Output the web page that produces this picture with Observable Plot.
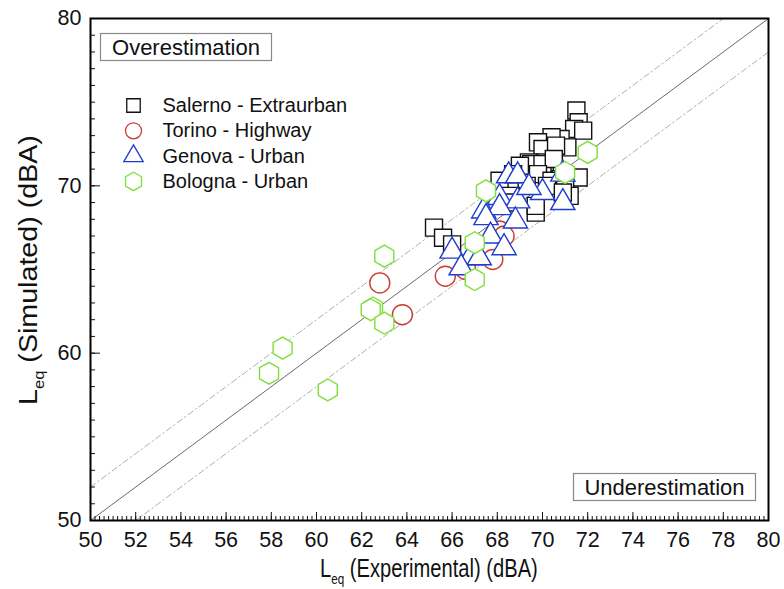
<!DOCTYPE html>
<html>
<head>
<meta charset="utf-8">
<script src="https://cdn.jsdelivr.net/npm/d3@7"></script>
<script src="https://cdn.jsdelivr.net/npm/@observablehq/plot@0.6"></script>
<style>
  html, body { margin: 0; padding: 0; background: #fff; }
  #chart { position: relative; width: 784px; height: 589px; }
</style>
</head>
<body>
<div id="chart"></div>
<script>
// Measured (experimental) vs simulated Leq, dBA — [experimental, simulated]
const salerno = [
  [65.2, 67.5], [65.6, 66.9], [66.0, 66.5],
  [71.5, 74.5], [71.6, 73.8], [71.4, 73.4], [71.8, 73.3],
  [70.8, 72.8], [70.4, 72.9], [71.1, 72.3], [69.8, 72.6], [70.0, 72.2], [70.6, 72.4],
  [70.1, 71.4], [69.4, 71.4], [69.5, 71.3], [70.0, 71.3], [69.0, 71.2], [70.5, 71.6],
  [71.6, 70.5], [68.1, 70.3], [68.7, 70.7], [69.8, 70.7], [70.8, 70.4], [70.4, 70.3],
  [69.3, 70.0], [70.2, 70.0], [71.0, 70.1],
  [71.2, 69.4], [70.9, 69.6], [69.7, 68.4], [69.7, 68.8], [68.6, 69.4], [68.4, 69.0]
];
const torino = [
  [62.8, 64.2], [63.8, 62.3], [65.7, 64.6], [66.6, 65.0], [67.4, 65.9],
  [67.7, 66.4], [68.1, 67.3], [68.3, 67.0], [67.8, 65.6]
];
const genova = [
  [68.5, 70.6], [68.9, 70.6], [70.9, 70.7], [70.0, 69.6], [70.9, 69.0], [68.1, 69.3],
  [68.9, 69.1], [67.4, 68.5], [68.1, 68.7], [67.5, 68.1], [68.8, 67.9], [67.7, 67.0],
  [68.3, 66.3], [66.0, 66.1], [66.8, 65.7], [67.2, 65.7], [66.4, 65.1], [69.4, 69.9]
];
const bologna = [
  [72.0, 72.0], [71.0, 70.8], [67.5, 69.7], [67.0, 66.6], [67.0, 64.4], [63.0, 65.8],
  [62.5, 62.7], [62.4, 62.6], [63.0, 61.8], [58.5, 60.3], [57.9, 58.8], [60.5, 57.8]
];

const seriesNames = ["Salerno - Extraurban", "Torino - Highway", "Genova - Urban", "Bologna - Urban"];

// Axis ticks
const xMajorTicks = d3.range(50, 80.001, 2);
const xMinorTicks = d3.range(0, 151).map(i => 50 + i * 0.2);
const yMajorTicks = [50, 60, 70, 80];
const yMinorTicks = d3.range(50, 80.001, 1);

// Perfect-agreement line and the ±2 dBA tolerance band
const diagonal = [50, 80];
const tolerance = [-2, 2];

const font = "'Liberation Sans', Arial, sans-serif";

const styles = [
  {symbol: "square",   stroke: "#111111", r: 9.6, lr: 7.6},
  {symbol: "circle",   stroke: "#cc3b32", r: 10,  lr: 8},
  {symbol: "triangle", stroke: "#1f3ccc", r: 9,   lr: 7.2},
  {symbol: "hexagon",  stroke: "#7ddf3a", r: 9.5, lr: 8}
];
const groups = [salerno, torino, genova, bologna];

const marks = [
  // tolerance band
  ...tolerance.map(t => Plot.line(diagonal, {
    x: d => d, y: d => d + t, stroke: "#9a9a9a", strokeWidth: 0.8,
    strokeDasharray: "6,3,1.5,3", clip: true
  })),
  Plot.line(diagonal, {x: d => d, y: d => d, stroke: "#444", strokeWidth: 0.8, clip: true}),
  // data
  ...groups.map((g, i) => Plot.dot(g, {
    x: d => d[0], y: d => d[1], symbol: () => styles[i].symbol,
    r: styles[i].r, stroke: styles[i].stroke, fill: "white", strokeWidth: 1.4
  })),
  // axes: inward ticks
  Plot.axisX({ticks: xMinorTicks, tickSize: -4, tickFormat: null, label: null, text: null}),
  Plot.axisX({ticks: xMajorTicks, tickSize: -8, label: null, text: null}),
  Plot.axisX({ticks: xMajorTicks, tickSize: 0, tickPadding: 11, label: null, fill: "#111"}),
  Plot.axisY({ticks: yMinorTicks, tickSize: -5, label: null, text: null}),
  Plot.axisY({ticks: yMajorTicks, tickSize: -10, label: null, text: null}),
  Plot.axisY({ticks: yMajorTicks, tickSize: 0, tickPadding: 9, label: null, fill: "#111"}),
  Plot.frame({stroke: "black", strokeWidth: 2}),
  // legend
  ...seriesNames.flatMap((name, i) => [
    Plot.dot([name], {
      frameAnchor: "top-left", dx: 43, dy: 87 + i * 25.3,
      symbol: () => styles[i].symbol, r: styles[i].lr, stroke: styles[i].stroke,
      fill: "white", strokeWidth: 1.3
    }),
    Plot.text([name], {
      frameAnchor: "top-left", dx: 72, dy: 87 + i * 25.3, text: d => d,
      textAnchor: "start", lineAnchor: "middle", fontSize: 20, fill: "#111"
    })
  ])
];

const chart = Plot.plot({
  width: 784,
  height: 589,
  marginLeft: 90,
  marginRight: 16,
  marginTop: 18,
  marginBottom: 69,
  x: {domain: [50, 80], axis: null},
  y: {domain: [50, 80], axis: null},
  style: {fontFamily: font, fontSize: "21.5px", background: "white", color: "#111"},
  marks
});

document.getElementById("chart").appendChild(chart);

const svg = d3.select(chart);

// annotation boxes
function labelBox(x, y, w, h, label) {
  const g = svg.append("g");
  g.append("rect").attr("x", x).attr("y", y).attr("width", w).attr("height", h)
    .attr("fill", "white").attr("stroke", "#888").attr("stroke-width", 1.2);
  g.append("text").attr("x", x + w / 2).attr("y", y + h / 2).attr("dy", "0.36em")
    .attr("text-anchor", "middle").attr("font-family", font).attr("font-size", 22)
    .attr("fill", "#111").text(label);
}
labelBox(100.5, 33.5, 171, 27, "Overestimation");
labelBox(573.5, 473.5, 182, 27, "Underestimation");

// axis titles with subscripts, scaled along the text to span a given length
function axisTitle(rest, size, length, place) {
  const g = svg.append("g");
  const t = g.append("text").attr("font-family", font).attr("font-size", size)
    .attr("fill", "#111").attr("text-anchor", "start");
  t.append("tspan").text("L");
  t.append("tspan").attr("font-size", size * 0.58).attr("dy", 7).text("eq");
  t.append("tspan").attr("dy", -7).text(" " + rest);
  const w = t.node().getComputedTextLength();
  const k = length / w;
  t.attr("transform", `scale(${k},1) translate(${-w / 2},0)`);
  g.attr("transform", place);
}
axisTitle("(Experimental) (dBA)", 25, 218, "translate(429,577)");
axisTitle("(Simulated) (dBA)", 25, 270, "translate(37,270) rotate(-90)");
</script>
</body>
</html>
